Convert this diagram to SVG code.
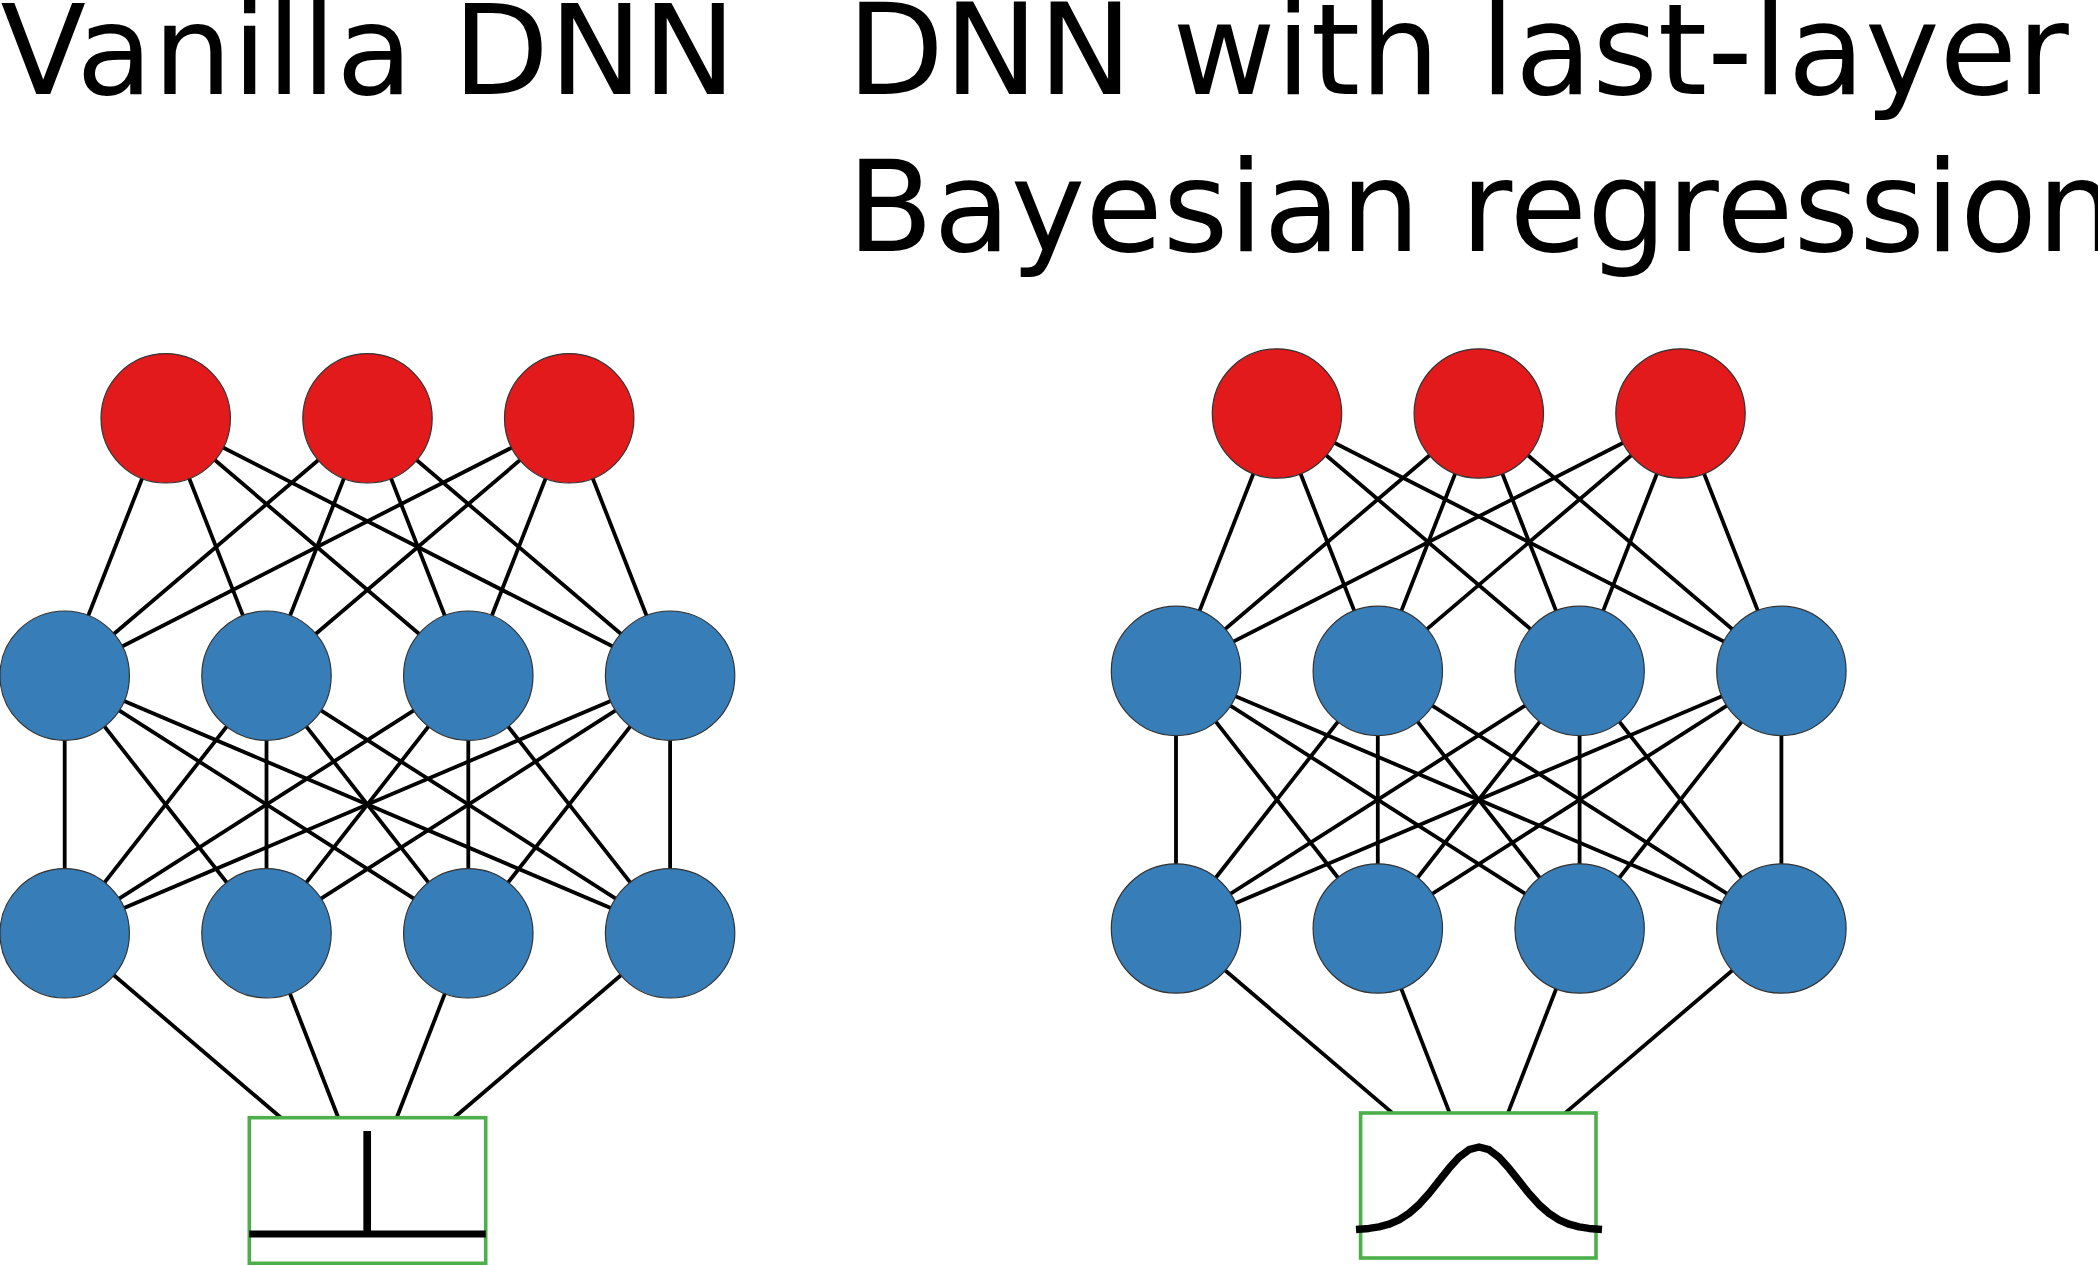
<svg xmlns="http://www.w3.org/2000/svg" width="2098" height="1265" viewBox="0 0 2098 1265">
<style>
.title{font-family:"DejaVu Sans","Verdana",sans-serif;font-size:126px;fill:#000}
.e line{stroke:#000;stroke-width:3.8}
.red{fill:#E31A1C;stroke:#333;stroke-width:1.2}
.blue{fill:#377EB8;stroke:#333;stroke-width:1.2}
.box{fill:#fff;stroke:#4DAF4A;stroke-width:3.6}
.dist{fill:none;stroke:#000;stroke-width:7.5;stroke-linejoin:round}
</style>
<rect width="2098" height="1265" fill="#fff"/>
<g id="title-left"><text class="title" x="0.5" y="94.3" style="font-size:125px">Vanilla DNN</text></g>
<g id="title-right"><text class="title" x="847" y="94.3">DNN with last-layer</text><text class="title" x="847" y="251">Bayesian regression</text></g>

<g id="panel-left">
<g id="connectors-left" class="e">
<line x1="165.7" y1="418.3" x2="64.7" y2="675.7"/><line x1="165.7" y1="418.3" x2="266.5" y2="675.7"/><line x1="165.7" y1="418.3" x2="468.3" y2="675.7"/><line x1="165.7" y1="418.3" x2="670.1" y2="675.7"/>
<line x1="367.5" y1="418.3" x2="64.7" y2="675.7"/><line x1="367.5" y1="418.3" x2="266.5" y2="675.7"/><line x1="367.5" y1="418.3" x2="468.3" y2="675.7"/><line x1="367.5" y1="418.3" x2="670.1" y2="675.7"/>
<line x1="569.2" y1="418.3" x2="64.7" y2="675.7"/><line x1="569.2" y1="418.3" x2="266.5" y2="675.7"/><line x1="569.2" y1="418.3" x2="468.3" y2="675.7"/><line x1="569.2" y1="418.3" x2="670.1" y2="675.7"/>
<line x1="64.7" y1="675.7" x2="64.7" y2="933.3"/><line x1="64.7" y1="675.7" x2="266.5" y2="933.3"/><line x1="64.7" y1="675.7" x2="468.3" y2="933.3"/><line x1="64.7" y1="675.7" x2="670.1" y2="933.3"/>
<line x1="266.5" y1="675.7" x2="64.7" y2="933.3"/><line x1="266.5" y1="675.7" x2="266.5" y2="933.3"/><line x1="266.5" y1="675.7" x2="468.3" y2="933.3"/><line x1="266.5" y1="675.7" x2="670.1" y2="933.3"/>
<line x1="468.3" y1="675.7" x2="64.7" y2="933.3"/><line x1="468.3" y1="675.7" x2="266.5" y2="933.3"/><line x1="468.3" y1="675.7" x2="468.3" y2="933.3"/><line x1="468.3" y1="675.7" x2="670.1" y2="933.3"/>
<line x1="670.1" y1="675.7" x2="64.7" y2="933.3"/><line x1="670.1" y1="675.7" x2="266.5" y2="933.3"/><line x1="670.1" y1="675.7" x2="468.3" y2="933.3"/><line x1="670.1" y1="675.7" x2="670.1" y2="933.3"/>
<line x1="64.7" y1="933.3" x2="281" y2="1117.7"/><line x1="266.5" y1="933.3" x2="338.3" y2="1117.7"/><line x1="468.3" y1="933.3" x2="396.7" y2="1117.7"/><line x1="670.1" y1="933.3" x2="454" y2="1117.7"/>
</g>
<g id="L-in1"><circle class="red" cx="165.7" cy="418.3" r="64.7"/></g>
<g id="L-in2"><circle class="red" cx="367.5" cy="418.3" r="64.7"/></g>
<g id="L-in3"><circle class="red" cx="569.2" cy="418.3" r="64.7"/></g>
<g id="L-h1a"><circle class="blue" cx="64.7" cy="675.7" r="64.7"/></g>
<g id="L-h1b"><circle class="blue" cx="266.5" cy="675.7" r="64.7"/></g>
<g id="L-h1c"><circle class="blue" cx="468.3" cy="675.7" r="64.7"/></g>
<g id="L-h1d"><circle class="blue" cx="670.1" cy="675.7" r="64.7"/></g>
<g id="L-h2a"><circle class="blue" cx="64.7" cy="933.3" r="64.7"/></g>
<g id="L-h2b"><circle class="blue" cx="266.5" cy="933.3" r="64.7"/></g>
<g id="L-h2c"><circle class="blue" cx="468.3" cy="933.3" r="64.7"/></g>
<g id="L-h2d"><circle class="blue" cx="670.1" cy="933.3" r="64.7"/></g>
<g id="L-out">
<rect class="box" x="249.3" y="1117.7" width="236.4" height="145.6"/>
<line x1="249.3" y1="1234" x2="485.7" y2="1234" stroke="#000" stroke-width="7"/>
<line x1="367.2" y1="1131" x2="367.2" y2="1234" stroke="#000" stroke-width="7.7"/>
</g>
</g>

<g id="panel-right" transform="translate(1111.3,-4.8)">
<g id="connectors-right" class="e">
<line x1="165.7" y1="418.3" x2="64.7" y2="675.7"/><line x1="165.7" y1="418.3" x2="266.5" y2="675.7"/><line x1="165.7" y1="418.3" x2="468.3" y2="675.7"/><line x1="165.7" y1="418.3" x2="670.1" y2="675.7"/>
<line x1="367.5" y1="418.3" x2="64.7" y2="675.7"/><line x1="367.5" y1="418.3" x2="266.5" y2="675.7"/><line x1="367.5" y1="418.3" x2="468.3" y2="675.7"/><line x1="367.5" y1="418.3" x2="670.1" y2="675.7"/>
<line x1="569.2" y1="418.3" x2="64.7" y2="675.7"/><line x1="569.2" y1="418.3" x2="266.5" y2="675.7"/><line x1="569.2" y1="418.3" x2="468.3" y2="675.7"/><line x1="569.2" y1="418.3" x2="670.1" y2="675.7"/>
<line x1="64.7" y1="675.7" x2="64.7" y2="933.3"/><line x1="64.7" y1="675.7" x2="266.5" y2="933.3"/><line x1="64.7" y1="675.7" x2="468.3" y2="933.3"/><line x1="64.7" y1="675.7" x2="670.1" y2="933.3"/>
<line x1="266.5" y1="675.7" x2="64.7" y2="933.3"/><line x1="266.5" y1="675.7" x2="266.5" y2="933.3"/><line x1="266.5" y1="675.7" x2="468.3" y2="933.3"/><line x1="266.5" y1="675.7" x2="670.1" y2="933.3"/>
<line x1="468.3" y1="675.7" x2="64.7" y2="933.3"/><line x1="468.3" y1="675.7" x2="266.5" y2="933.3"/><line x1="468.3" y1="675.7" x2="468.3" y2="933.3"/><line x1="468.3" y1="675.7" x2="670.1" y2="933.3"/>
<line x1="670.1" y1="675.7" x2="64.7" y2="933.3"/><line x1="670.1" y1="675.7" x2="266.5" y2="933.3"/><line x1="670.1" y1="675.7" x2="468.3" y2="933.3"/><line x1="670.1" y1="675.7" x2="670.1" y2="933.3"/>
<line x1="64.7" y1="933.3" x2="281" y2="1117.7"/><line x1="266.5" y1="933.3" x2="338.3" y2="1117.7"/><line x1="468.3" y1="933.3" x2="396.7" y2="1117.7"/><line x1="670.1" y1="933.3" x2="454" y2="1117.7"/>
</g>
<g id="R-in1"><circle class="red" cx="165.7" cy="418.3" r="64.7"/></g>
<g id="R-in2"><circle class="red" cx="367.5" cy="418.3" r="64.7"/></g>
<g id="R-in3"><circle class="red" cx="569.2" cy="418.3" r="64.7"/></g>
<g id="R-h1a"><circle class="blue" cx="64.7" cy="675.7" r="64.7"/></g>
<g id="R-h1b"><circle class="blue" cx="266.5" cy="675.7" r="64.7"/></g>
<g id="R-h1c"><circle class="blue" cx="468.3" cy="675.7" r="64.7"/></g>
<g id="R-h1d"><circle class="blue" cx="670.1" cy="675.7" r="64.7"/></g>
<g id="R-h2a"><circle class="blue" cx="64.7" cy="933.3" r="64.7"/></g>
<g id="R-h2b"><circle class="blue" cx="266.5" cy="933.3" r="64.7"/></g>
<g id="R-h2c"><circle class="blue" cx="468.3" cy="933.3" r="64.7"/></g>
<g id="R-h2d"><circle class="blue" cx="670.1" cy="933.3" r="64.7"/></g>
</g>
<g id="R-out">
<rect class="box" x="1360.6" y="1113" width="235.4" height="145"/>
<polyline class="dist" points="1356,1229.4 1369,1228.4 1379,1226.9 1389,1224.2 1399,1219.9 1409,1213.4 1419,1204.6 1429,1193.5 1439,1180.9 1449,1168.3 1459,1157.2 1469,1149.7 1479,1147 1489,1149.7 1499,1157.2 1509,1168.3 1519,1180.9 1529,1193.5 1539,1204.6 1549,1213.4 1559,1219.9 1569,1224.2 1579,1226.9 1589,1228.4 1602,1229.4"/>
</g>
</svg>
